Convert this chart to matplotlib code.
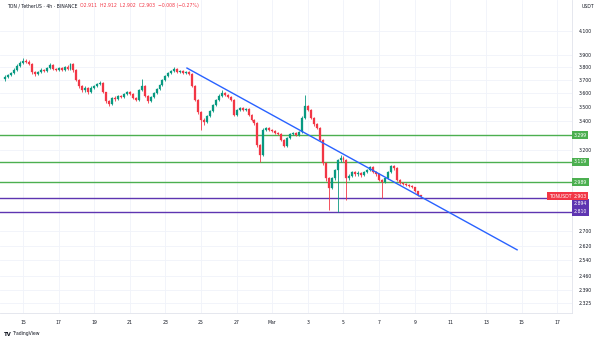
import matplotlib
matplotlib.use("Agg")
import matplotlib.pyplot as plt
import matplotlib.dates as mdates
from matplotlib.ticker import NullLocator
import pandas as pd

# TON / USDT, 4h candles
first_open = 3.706
closes = [3.722, 3.738, 3.753, 3.777, 3.809, 3.833, 3.849, 3.841, 3.825, 3.761,
          3.745, 3.761, 3.777, 3.769, 3.793, 3.817, 3.785, 3.777, 3.793, 3.777,
          3.801, 3.785, 3.825, 3.777, 3.698, 3.653, 3.622, 3.638, 3.607, 3.638,
          3.653, 3.668, 3.676, 3.607, 3.541, 3.519, 3.563, 3.556, 3.577, 3.570,
          3.592, 3.607, 3.592, 3.563, 3.549, 3.622, 3.653, 3.577, 3.541, 3.570,
          3.600, 3.630, 3.661, 3.698, 3.730, 3.753, 3.769, 3.785, 3.761, 3.769,
          3.753, 3.761, 3.745, 3.653, 3.549, 3.461, 3.404, 3.390, 3.432, 3.469,
          3.512, 3.549, 3.577, 3.600, 3.585, 3.570, 3.549, 3.439, 3.476, 3.490,
          3.476, 3.483, 3.439, 3.404, 3.382, 3.231, 3.164, 3.334, 3.347, 3.334,
          3.327, 3.313, 3.306, 3.265, 3.224, 3.278, 3.306, 3.313, 3.299, 3.320,
          3.418, 3.505, 3.476, 3.418, 3.375, 3.347, 3.265, 3.112, 3.015, 2.953,
          3.015, 3.066, 3.131, 3.144, 3.131, 3.015, 3.028, 3.053, 3.040, 3.047,
          3.034, 3.053, 3.066, 3.086, 3.053, 3.040, 3.003, 2.990, 3.015, 3.053,
          3.092, 3.079, 3.003, 2.984, 2.978, 2.971, 2.965, 2.959, 2.934, 2.911,
          2.903]
highs = [3.735, 3.750, 3.765, 3.790, 3.822, 3.850, 3.873, 3.862, 3.855, 3.832,
         3.770, 3.772, 3.790, 3.785, 3.805, 3.830, 3.825, 3.795, 3.805, 3.800,
         3.812, 3.815, 3.835, 3.830, 3.785, 3.705, 3.665, 3.650, 3.645, 3.650,
         3.662, 3.678, 3.690, 3.682, 3.612, 3.548, 3.570, 3.575, 3.585, 3.588,
         3.600, 3.615, 3.615, 3.598, 3.570, 3.630, 3.706, 3.660, 3.585, 3.578,
         3.608, 3.640, 3.670, 3.708, 3.740, 3.765, 3.780, 3.800, 3.795, 3.778,
         3.775, 3.770, 3.770, 3.752, 3.660, 3.556, 3.470, 3.420, 3.440, 3.478,
         3.520, 3.558, 3.590, 3.622, 3.610, 3.595, 3.578, 3.555, 3.485, 3.498,
         3.498, 3.492, 3.490, 3.445, 3.410, 3.388, 3.240, 3.345, 3.356, 3.355,
         3.342, 3.335, 3.320, 3.312, 3.272, 3.285, 3.315, 3.322, 3.320, 3.330,
         3.430, 3.585, 3.515, 3.482, 3.425, 3.382, 3.352, 3.270, 3.120, 3.025,
         3.025, 3.075, 3.140, 3.165, 3.155, 3.138, 3.040, 3.062, 3.062, 3.058,
         3.055, 3.062, 3.075, 3.095, 3.092, 3.060, 3.045, 3.010, 3.022, 3.060,
         3.100, 3.098, 3.085, 3.010, 2.990, 2.985, 2.978, 2.970, 2.963, 2.938,
         2.912]
lows = [3.695, 3.712, 3.730, 3.745, 3.770, 3.800, 3.825, 3.830, 3.815, 3.750,
        3.730, 3.738, 3.755, 3.760, 3.762, 3.785, 3.775, 3.768, 3.770, 3.768,
        3.772, 3.775, 3.780, 3.765, 3.690, 3.640, 3.610, 3.612, 3.596, 3.600,
        3.630, 3.645, 3.660, 3.600, 3.530, 3.505, 3.512, 3.545, 3.550, 3.560,
        3.565, 3.585, 3.585, 3.555, 3.540, 3.545, 3.615, 3.570, 3.530, 3.535,
        3.562, 3.595, 3.625, 3.655, 3.690, 3.722, 3.745, 3.760, 3.752, 3.752,
        3.745, 3.745, 3.738, 3.645, 3.540, 3.450, 3.334, 3.370, 3.382, 3.425,
        3.460, 3.505, 3.540, 3.570, 3.575, 3.560, 3.540, 3.430, 3.432, 3.468,
        3.468, 3.470, 3.432, 3.395, 3.370, 3.220, 3.118, 3.155, 3.325, 3.325,
        3.318, 3.305, 3.298, 3.258, 3.215, 3.218, 3.272, 3.300, 3.290, 3.292,
        3.315, 3.410, 3.468, 3.410, 3.365, 3.338, 3.255, 3.100, 3.000, 2.820,
        2.945, 3.005, 2.808, 3.120, 3.120, 2.879, 3.005, 3.020, 3.032, 3.032,
        3.025, 3.028, 3.045, 3.060, 3.045, 3.032, 2.995, 2.893, 2.982, 3.008,
        3.045, 3.070, 2.995, 2.978, 2.970, 2.965, 2.958, 2.952, 2.928, 2.905,
        2.902]
opens = [first_open] + closes[:-1]
times = pd.date_range("2025-02-14 00:00", periods=len(closes), freq="4h")

trend_times = ["2025-02-24 05:00", "2025-03-14 18:00"]
trend_prices = [3.793, 2.597]

green_levels = [3.299, 3.119, 2.989]
purple_levels = [2.894, 2.810]
last_price = 2.903

ytick_values = [4.100, 3.900, 3.800, 3.700, 3.600, 3.500, 3.400, 3.200,
                2.700, 2.620, 2.540, 2.460, 2.390, 2.325]
xtick_dates = pd.date_range("2025-02-15", "2025-03-17", freq="2D")
xtick_labels = ["15", "17", "19", "21", "23", "25", "27", "Mar",
                "3", "5", "7", "9", "11", "13", "15", "17"]

UP = "#089981"
DOWN = "#f23645"
GREEN_LINE = "#4caf50"
PURPLE = "#5e35b1"
BLUE = "#2962ff"
TEXT = "#131722"
FS = 3.3

fig = plt.figure(figsize=(6, 3.4), dpi=100)
ax = fig.add_axes([0.0, 27 / 340, 572 / 600, 313 / 340])
ax.set_yscale("log")

x = mdates.date2num(times)
for xi, o, h, l, c in zip(x, opens, highs, lows, closes):
    col = UP if c >= o else DOWN
    ax.vlines(xi, l, h, color=col, linewidth=0.6, zorder=3)
    lo, hi = min(o, c), max(o, c)
    if hi - lo < 0.003:
        hi = lo + 0.003
    ax.bar(xi, hi - lo, bottom=lo, width=0.11, color=col, edgecolor=col,
           linewidth=0.2, zorder=4)

for lvl in green_levels:
    ax.axhline(lvl, color=GREEN_LINE, linewidth=1.0, zorder=2)
for lvl in purple_levels:
    ax.axhline(lvl, color=PURPLE, linewidth=1.0, zorder=2)

ax.plot(mdates.date2num(pd.to_datetime(trend_times)), trend_prices,
        color=BLUE, linewidth=1.0, zorder=5)

ax.set_xlim(mdates.date2num(pd.Timestamp("2025-02-13 17:00")),
            mdates.date2num(pd.Timestamp("2025-03-17 20:00")))
ax.set_ylim(2.2766, 4.371)

ax.yaxis.tick_right()
ax.set_yticks(ytick_values)
ax.set_yticklabels([f"{v:.3f}" for v in ytick_values])
ax.yaxis.set_minor_locator(NullLocator())
ax.set_xticks(mdates.date2num(xtick_dates))
ax.set_xticklabels(xtick_labels)
ax.tick_params(axis="y", length=0, pad=5, labelsize=FS, labelcolor=TEXT)
ax.tick_params(axis="x", length=0, pad=5, labelsize=FS, labelcolor=TEXT)
ax.grid(True, color="#f0f3fa", linewidth=0.6, zorder=0)

for side in ["left", "top"]:
    ax.spines[side].set_visible(False)
for side in ["right", "bottom"]:
    ax.spines[side].set_color("#e0e3eb")
    ax.spines[side].set_linewidth(0.6)

ytr = ax.get_yaxis_transform()
box_kw = dict(boxstyle="square,pad=0.35", linewidth=0)
for lvl in green_levels:
    ax.text(1.003, lvl, f"{lvl:.3f}", transform=ytr, ha="left", va="center",
            fontsize=FS, color="white", bbox=dict(facecolor=GREEN_LINE, **box_kw),
            clip_on=False, zorder=10)
ax.text(1.003, last_price, f"{last_price:.3f}", transform=ytr, ha="left", va="center",
        fontsize=FS, color="white", bbox=dict(facecolor=DOWN, **box_kw),
        clip_on=False, zorder=11)
ax.text(0.999, last_price, "TONUSDT", transform=ytr, ha="right", va="center",
        fontsize=FS, color="white", bbox=dict(facecolor=DOWN, **box_kw),
        clip_on=False, zorder=11)
ax.annotate(f"{purple_levels[0]:.3f}", xy=(1.003, purple_levels[0]), xycoords=ytr,
            xytext=(0, -4), textcoords="offset points", ha="left", va="center",
            fontsize=FS, color="white", bbox=dict(facecolor=PURPLE, **box_kw),
            annotation_clip=False, zorder=10)
ax.text(1.003, purple_levels[1], f"{purple_levels[1]:.3f}", transform=ytr,
        ha="left", va="center", fontsize=FS, color="white",
        bbox=dict(facecolor=PURPLE, **box_kw), clip_on=False, zorder=10)

# header and corner texts
fig.text(7 / 600, 1 - 6 / 340, "TON / TetherUS · 4h · BINANCE", fontsize=FS,
         color=TEXT, va="center", ha="left")
fig.text(80 / 600, 1 - 6 / 340,
         "O2.911  H2.912  L2.902  C2.903  −0.008 (−0.27%)",
         fontsize=FS, color=DOWN, va="center", ha="left")
fig.text(588 / 600, 1 - 7 / 340, "USDT", fontsize=FS, color=TEXT,
         va="center", ha="center")
fig.text(4 / 600, 1 - 334 / 340, "TV", fontsize=FS + 0.6, color=TEXT,
         fontweight="bold", va="center", ha="left")
fig.text(12 / 600, 1 - 334 / 340, "TradingView", fontsize=FS, color=TEXT,
         va="center", ha="left")

fig.savefig("out.png", dpi=100, facecolor="white")
